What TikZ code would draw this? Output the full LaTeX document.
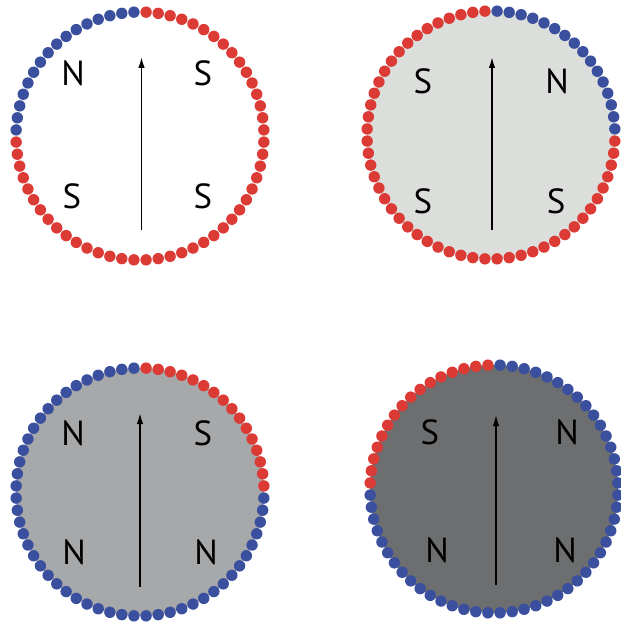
\documentclass[tikz,border=0pt]{standalone}
\usepackage{fontspec}
\setmainfont{PT Sans}
\usetikzlibrary{arrows.meta}
\definecolor{mred}{HTML}{DC3A35}
\definecolor{mblue}{HTML}{3A4F9E}
\definecolor{gA}{HTML}{FFFFFF}
\definecolor{gB}{HTML}{DCDEDC}
\definecolor{gC}{HTML}{A6A8AA}
\definecolor{gD}{HTML}{6C6E70}
\newcommand\dotring[4]{%
  \foreach \i in {0,...,63}{%
    \pgfmathtruncatemacro\q{div(\i,16)}%
    \ifcase\q \def\cc{#1}\or \def\cc{#2}\or \def\cc{#3}\else \def\cc{#4}\fi
    \fill[\cc] ({124*cos((\i+0.5)*5.625)},{-124*sin((\i+0.5)*5.625)}) circle[radius=5.7];
  }}
\tikzset{
  pole/.style={font=\fontsize{35}{35}\selectfont, text=black, inner sep=0pt},
  fieldarrow/.style={-{Latex[length=11bp,width=6.5bp]}, line width=1.6bp, black}
}
\begin{document}
\begin{tikzpicture}[x=1bp,y=-1bp]
\useasboundingbox (0,0) rectangle (621,625);
% circle 1
\begin{scope}[shift={(140,136)}]
  \fill[gA] (0,0) circle[radius=124];
  \dotring{mred}{mblue}{mred}{mred}
\end{scope}
% circle 2
\begin{scope}[shift={(491,135)}]
  \fill[gB] (0,0) circle[radius=124];
  \dotring{mblue}{mred}{mred}{mred}
\end{scope}
% circle 3
\begin{scope}[shift={(140,492)}]
  \fill[gC] (0,0) circle[radius=124];
  \dotring{mred}{mblue}{mblue}{mblue}
\end{scope}
% circle 4
\begin{scope}[shift={(494,489)}]
  \fill[gD] (0,0) circle[radius=124];
  \dotring{mblue}{mred}{mblue}{mblue}
\end{scope}
% arrows
\coordinate (a1s) at (141.5,230); \coordinate (a1e) at (141.5,57);
\coordinate (a2s) at (492,230);   \coordinate (a2e) at (492,57);
\coordinate (a3s) at (140,587);   \coordinate (a3e) at (140,413);
\coordinate (a4s) at (496,585);   \coordinate (a4e) at (496,415);
\draw[fieldarrow] (a1s) -- (a1e);
\draw[fieldarrow] (a2s) -- (a2e);
\draw[fieldarrow] (a3s) -- (a3e);
\draw[fieldarrow] (a4s) -- (a4e);
% labels
\node[pole] (l1a) at (73,73) {N};
\node[pole] (l1b) at (203,73) {S};
\node[pole] (l1c) at (72,196) {S};
\node[pole] (l1d) at (203,196) {S};
\node[pole] (l2a) at (423,81) {S};
\node[pole] (l2b) at (557,81) {N};
\node[pole] (l2c) at (423,201) {S};
\node[pole] (l2d) at (556,201) {S};
\node[pole] (l3a) at (73,433) {N};
\node[pole] (l3b) at (203,433) {S};
\node[pole] (l3c) at (74,552) {N};
\node[pole] (l3d) at (206,552) {N};
\node[pole] (l4a) at (430,432) {S};
\node[pole] (l4b) at (567,432) {N};
\node[pole] (l4c) at (437,550) {N};
\node[pole] (l4d) at (565,550) {N};
\end{tikzpicture}
\end{document}
